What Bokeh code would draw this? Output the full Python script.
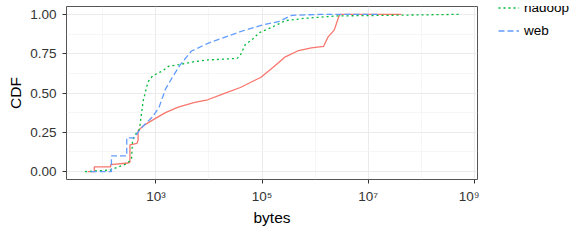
from bokeh.plotting import figure
from bokeh.layouts import row
from bokeh.models import (Range1d, FixedTicker, Legend, LegendItem)
from bokeh.core.properties import value
from bokeh.embed import file_html
from bokeh.resources import INLINE

# ---------------- data ----------------
series_names = ["cache", "hadoop", "web"]

cache_bytes = [52, 69, 69, 140, 140, 300, 324, 324, 440, 462, 462, 575, 708, 1000,
               1514, 2630, 5370, 9460, 19100, 38900, 95500, 158000, 275000, 490000,
               851000, 1450000, 1740000, 2290000, 2820000, 3000000, 42000000]
cache_cdf = [0.0, 0.0, 0.03, 0.03, 0.045, 0.055, 0.06, 0.17, 0.18, 0.2, 0.26, 0.29, 0.31, 0.34,
             0.375, 0.41, 0.44, 0.457, 0.496, 0.535, 0.6, 0.66, 0.73, 0.77,
             0.787, 0.797, 0.855, 0.9, 0.99, 1.0, 1.0]

hadoop_bytes = [46, 138, 282, 347, 363, 398, 490, 575, 708, 871, 1318, 1738, 2692, 5370,
                9550, 33900, 38900, 47900, 67600, 89100, 158000, 275000, 646000,
                2630000, 43700000, 513000000]
hadoop_cdf = [0.0, 0.01, 0.05, 0.08, 0.2, 0.23, 0.27, 0.45, 0.57, 0.61, 0.64, 0.67, 0.68, 0.70,
              0.71, 0.72, 0.74, 0.806, 0.845, 0.884, 0.92, 0.96, 0.975,
              0.99, 0.995, 1.0]

web_bytes = [59, 145, 145, 282, 282, 398, 457, 575, 871, 1148, 1514, 2042, 2884, 4677,
             9550, 38900, 95500, 209000, 363000, 1290000, 16200000]
web_cdf = [0.0, 0.0, 0.1, 0.1, 0.215, 0.215, 0.25, 0.29, 0.35, 0.41, 0.525, 0.60, 0.68, 0.767,
           0.816, 0.89, 0.93, 0.955, 0.994, 1.0, 1.0]

x_tick_values = [10**3, 10**5, 10**7, 10**9]
x_tick_labels = ["10\u00b3", "10\u2075", "10\u2077", "10\u2079"]
x_minor_values = [10**2, 10**4, 10**6, 10**8]
y_tick_values = [0.0, 0.25, 0.5, 0.75, 1.0]
y_tick_labels = ["0.00", "0.25", "0.50", "0.75", "1.00"]
y_minor_values = [0.125, 0.375, 0.625, 0.875]

# ---------------- styling ----------------
FONT = "Liberation Sans"
colors = ["#F8766D", "#00BA38", "#619CFF"]
dashes = ["solid", "2 3", "6 3"]

p = figure(width=479, height=228, x_axis_type="log",
           x_range=Range1d(10**1.315, 10**9.06), y_range=Range1d(-0.05, 1.05),
           output_backend="svg", toolbar_location=None,
           min_border_left=66, min_border_right=2, min_border_top=6, min_border_bottom=46,
           background_fill_color="white", border_fill_color="white")

p.outline_line_color = "#555555"
p.outline_line_width = 1

p.xaxis.ticker = FixedTicker(ticks=x_tick_values, minor_ticks=x_minor_values)
p.yaxis.ticker = FixedTicker(ticks=y_tick_values, minor_ticks=y_minor_values)
p.xaxis.major_label_overrides = dict(zip(x_tick_values, x_tick_labels))
p.yaxis.major_label_overrides = dict(zip(y_tick_values, y_tick_labels))

for ax in (p.xaxis, p.yaxis):
    ax.axis_line_color = None
    ax.major_tick_line_color = "#333333"
    ax.major_tick_out = 4
    ax.major_tick_in = 0
    ax.minor_tick_line_color = None
    ax.major_label_text_font = FONT
    ax.major_label_text_font_size = "13.5px"
    ax.major_label_text_color = "#333333"
    ax.axis_label_text_font = FONT
    ax.axis_label_text_font_size = "15.5px"
    ax.axis_label_text_font_style = "normal"
    ax.axis_label_text_color = "black"

p.xaxis.axis_label = "bytes"
p.yaxis.axis_label = "CDF"
p.xaxis.major_label_standoff = 5
p.xaxis.axis_label_standoff = 2
p.yaxis.major_label_standoff = 6
p.yaxis.axis_label_standoff = 3

for g in (p.xgrid, p.ygrid):
    g.grid_line_color = "#EBEBEB"
    g.grid_line_width = 1.1
    g.minor_grid_line_color = "#F2F2F2"
    g.minor_grid_line_width = 0.7

xs = [cache_bytes, hadoop_bytes, web_bytes]
ys = [cache_cdf, hadoop_cdf, web_cdf]
for x, y, c, d in zip(xs, ys, colors, dashes):
    p.line(x, y, line_color=c, line_width=1.3, line_dash=d)

# ---------------- legend panel (separate narrow figure to the right) ----------------
# the same series are drawn here outside the visible range, only to feed the legend keys
lg = figure(width=93, height=228, x_range=Range1d(0, 1), y_range=Range1d(0, 1),
            output_backend="svg", toolbar_location=None,
            x_axis_location=None, y_axis_location=None, min_border=0,
            background_fill_color="white", border_fill_color="white")
lg.outline_line_color = None
lg.grid.visible = False

key_renderers = [lg.line(x, y, line_color=c, line_width=1.3, line_dash=d)
                 for x, y, c, d in zip(xs, ys, colors, dashes)]

legend = Legend(items=[LegendItem(label=value(n), renderers=[r])
                       for n, r in zip(series_names, key_renderers)],
                location=(19, 137), glyph_width=21, glyph_height=23, spacing=0,
                padding=0, margin=0, border_line_color=None, background_fill_alpha=0,
                label_text_font=FONT, label_text_font_size="13.5px",
                label_text_color="black", label_standoff=5)
lg.add_layout(legend, "center")

layout = row(p, lg, spacing=0)

open("out.html", "w").write(file_html(layout, INLINE))
